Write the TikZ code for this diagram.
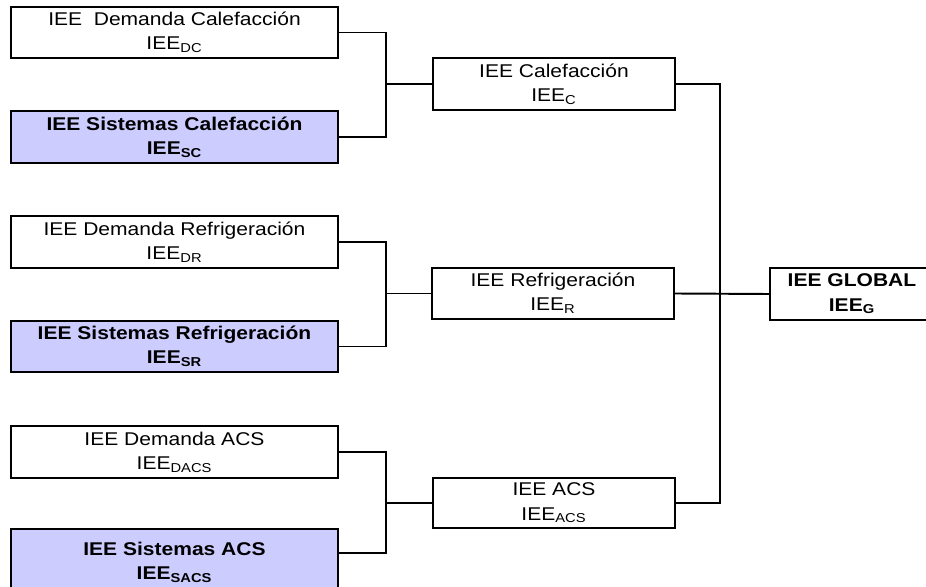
\documentclass[tikz,border=0pt]{standalone}
\usepackage{fontspec}
\setmainfont{Liberation Sans}[FakeStretch=1.14]
\usepackage{tikz}
\usepackage{xcolor}
\definecolor{lav}{RGB}{204,204,255}

\begin{document}
\begin{tikzpicture}[x=0.02cm,y=-0.02cm,
      font=\fontsize{10.5}{13.8}\selectfont,
      every node/.style={line width=1.1pt,inner sep=0pt,align=center},
      leafbox/.style={draw,minimum width=6.54cm,minimum height=1.03cm},
      sysbox/.style={leafbox,fill=lav,font=\fontsize{10.5}{13.8}\selectfont\bfseries},
      sumbox/.style={draw,minimum width=4.84cm,minimum height=1.03cm},
      link/.style={line width=1.1pt}]

      \useasboundingbox (0,0) rectangle (926,587);
      \clip (0,0) rectangle (926,587);

      \node[leafbox] (dc) at (174.5,32.5) {IEE~ Demanda Calefacción\\IEE\textsubscript{DC}};
      \node[sysbox] (sc) at (174.5,137) {IEE Sistemas Calefacción\\IEE\textsubscript{SC}};
      \node[leafbox] (dr) at (174.5,242) {IEE Demanda Refrigeración\\IEE\textsubscript{DR}};
      \node[sysbox] (sr) at (174.5,346.5) {IEE Sistemas Refrigeración\\IEE\textsubscript{SR}};
      \node[leafbox] (dacs) at (174.5,452) {IEE Demanda ACS\\IEE\textsubscript{DACS}};
      \node[sysbox,minimum height=1.32cm] (sacs) at (174.5,562) {IEE Sistemas ACS\\IEE\textsubscript{SACS}};

      \node[sumbox] (cal) at (554,84) {IEE Calefacción\\IEE\textsubscript{C}};
      \node[sumbox] (ref) at (553,293.5) {IEE Refrigeración\\IEE\textsubscript{R}};
      \node[sumbox,minimum height=1cm] (acs) at (554,503) {IEE ACS\\IEE\textsubscript{ACS}};

      \node[draw,minimum width=3.28cm,minimum height=1.03cm,font=\fontsize{10.5}{13.8}\selectfont\bfseries] (glob) at (852,294) {IEE GLOBAL\\IEE\textsubscript{G}};

      \coordinate (jc) at (386,84);
      \coordinate (jr) at (386,293.5);
      \coordinate (ja) at (386,503);
      \coordinate (jg) at (720,84);

      \draw[link] (dc.east) -| (jc) |- (sc.east);
      \draw[link] (jc) -- (cal.west);
      \draw[link] (dr.east) -| (jr) |- (sr.east);
      \draw[link] (jr) -- (ref.west);
      \draw[link] (dacs.east) -| (ja) |- ([yshift=-14.2pt]sacs.north east);
      \draw[link] (ja) -- (acs.west);

      \draw[link] (cal.east) -- (jg) |- (acs.east);
      \draw[link] (ref.east) -- (glob.west);
    \end{tikzpicture}
\end{document}
